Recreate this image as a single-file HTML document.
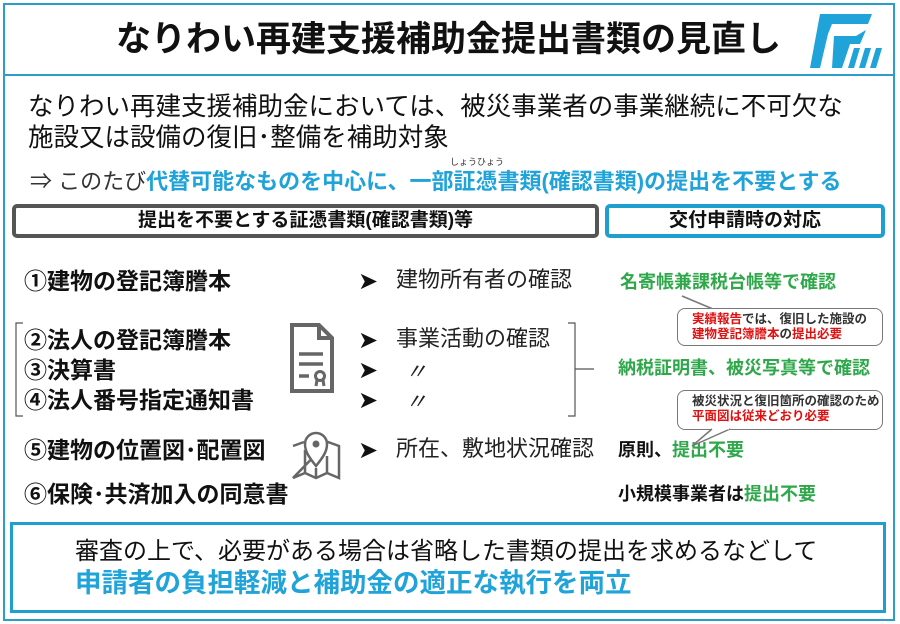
<!DOCTYPE html>
<html><head><meta charset="utf-8">
<style>
*{margin:0;padding:0;box-sizing:border-box}
body{width:900px;height:624px;background:#fff;position:relative;overflow:hidden;font-family:"Liberation Sans","Noto Sans CJK JP",sans-serif;color:#111}
.a{position:absolute;white-space:nowrap;line-height:1}
.b{font-weight:bold}
.blue{color:#1fa3d8}
.green{color:#2ea84a}
.red{color:#e01010}
.row{font-size:23px;font-weight:bold}
.arr{font-size:24px;color:#111}
.tx{font-size:22px;color:#222}
.g{font-size:18px;font-weight:bold}
.call{position:absolute;border:1.5px solid #777;border-radius:8px;background:#fff;font-size:12.5px;font-weight:bold;line-height:15px;padding:3px 0 0 14px;color:#333}
</style></head><body>
<div class="a" style="left:3px;top:3px;width:892px;height:618px;border:2px solid #2a9ec8"></div>
<div class="a" style="left:3px;top:74px;width:892px;height:2px;background:#2a9ec8"></div>
<div class="a b" style="left:116px;top:22px;font-size:35px;color:#111">なりわい再建支援補助金提出書類の見直し</div>
<svg class="a" style="left:810px;top:14px" width="72" height="54" viewBox="0 0 72 54">
<path d="M10 0 L62 0 L58 10 L22 10 L18 20 L10 54 L0 54 Z" fill="#1fa3d8"/>
<path d="M24 22 L46 22 L56 16 L50 30 L40 30 L32 54 L22 54 Z" fill="#1fa3d8"/>
<path d="M44 34 L50 34 L44 54 L38 54 Z M55 34 L61 34 L55 54 L49 54 Z M66 34 L72 34 L66 54 L60 54 Z" fill="#1fa3d8"/>
</svg>
<div class="a" style="left:28px;top:95px;font-size:25.5px">なりわい再建支援補助金においては、被災事業者の事業継続に不可欠な</div>
<div class="a" style="left:28px;top:126px;font-size:25.5px">施設又は設備の復旧･整備を補助対象</div>
<div class="a" style="left:450px;top:158px;font-size:9px;color:#333">しょうひょう</div>
<div class="a" style="left:30px;top:171px;font-size:22px"><span style="color:#333">⇒ このたび</span><span class="b blue">代替可能なものを中心に、一部証憑書類(確認書類)の提出を不要とする</span></div>
<div class="a" style="left:12px;top:204px;width:587px;height:34px;border:4px solid #555;border-radius:5px"></div>
<div class="a b" style="left:12px;top:211px;width:587px;text-align:center;font-size:19px">提出を不要とする証憑書類(確認書類)等</div>
<div class="a" style="left:605px;top:204px;width:280px;height:34px;border:4px solid #1f9fcf;border-radius:5px"></div>
<div class="a b" style="left:605px;top:211px;width:280px;text-align:center;font-size:19px">交付申請時の対応</div>

<div class="a row" style="left:24px;top:270px">①建物の登記簿謄本</div>
<div class="a row" style="left:24px;top:329px">②法人の登記簿謄本</div>
<div class="a row" style="left:24px;top:359px">③決算書</div>
<div class="a row" style="left:24px;top:389px">④法人番号指定通知書</div>
<div class="a row" style="left:24px;top:439px">⑤建物の位置図･配置図</div>
<div class="a row" style="left:24px;top:483px">⑥保険･共済加入の同意書</div>
<svg class="a" style="left:14px;top:322px" width="10" height="96"><path d="M9 1 H2 V94 H9" fill="none" stroke="#555" stroke-width="1.2"/></svg>
<svg class="a" style="left:560px;top:322px" width="40" height="96"><path d="M8 1 H15 V94 H8 M15 47 H34" fill="none" stroke="#555" stroke-width="1.2"/></svg>

<svg class="a" style="left:289px;top:322px" width="46" height="72" viewBox="0 0 46 72"><path d="M3 3 H30 L43 16 V69 H3 Z M30 3 V16 H43" fill="none" stroke="#666" stroke-width="4"/><path d="M10 32 H34 M10 42 H34 M10 54 H20" stroke="#666" stroke-width="3.5"/><circle cx="31" cy="54" r="4.5" fill="none" stroke="#666" stroke-width="3"/><path d="M28 58 L27 64 M34 58 L35 64" stroke="#666" stroke-width="3"/></svg>
<svg class="a" style="left:290px;top:428px" width="52" height="54" viewBox="0 0 52 54"><path d="M3 18 L14 14 M38 14 L49 18 V50 L37 45 L26 50 L15 45 L3 50 Z M15 45 V22 M37 45 V28 M26 50 V40" fill="none" stroke="#666" stroke-width="2.5"/><path d="M26 38 C18 28 15 23 15 16 A11 11 0 0 1 37 16 C37 23 34 28 26 38 Z" fill="#fff" stroke="#666" stroke-width="2.5"/><circle cx="26" cy="16" r="3.5" fill="#666"/></svg>

<div class="a arr" style="left:358px;top:270px">➤</div>
<div class="a arr" style="left:358px;top:329px">➤</div>
<div class="a arr" style="left:358px;top:359px">➤</div>
<div class="a arr" style="left:358px;top:389px">➤</div>
<div class="a arr" style="left:358px;top:439px">➤</div>
<div class="a tx" style="left:396px;top:269px">建物所有者の確認</div>
<div class="a tx" style="left:396px;top:328px">事業活動の確認</div>
<div class="a tx" style="left:405px;top:361px;font-style:italic">〃</div>
<div class="a tx" style="left:405px;top:391px;font-style:italic">〃</div>
<div class="a tx" style="left:396px;top:438px">所在、敷地状況確認</div>

<div class="a g green" style="left:620px;top:273px">名寄帳兼課税台帳等で確認</div>
<div class="a g green" style="left:618px;top:359px">納税証明書、被災写真等で確認</div>
<div class="a g" style="left:618px;top:441px">原則、<span class="green">提出不要</span></div>
<div class="a g" style="left:618px;top:485px">小規模事業者は<span class="green">提出不要</span></div>

<svg class="a" style="left:680px;top:294px" width="60" height="20"><path d="M2 2 L40 18 L58 18" fill="#fff" stroke="#777" stroke-width="1.5"/></svg>
<div class="call" style="left:677px;top:308px;width:206px;height:38px"><span class="red">実績報告</span>では、復旧した施設の<br><span class="red">建物登記簿謄本</span>の<span class="red">提出必要</span></div>
<div class="call" style="left:677px;top:390px;width:206px;height:40px;font-weight:bold">被災状況と復旧箇所の確認のため<br><span class="red">平面図は従来どおり必要</span></div>
<svg class="a" style="left:690px;top:428px" width="60" height="20"><path d="M40 1 L2 18 L22 1" fill="#fff" stroke="#777" stroke-width="1.5"/><path d="M23 0 L39 0" stroke="#fff" stroke-width="3"/></svg>

<div class="a" style="left:10px;top:522px;width:876px;height:91px;border:3px solid #1f9fcf"></div>
<div class="a" style="left:75px;top:540px;font-size:24px">審査の上で、必要がある場合は省略した書類の提出を求めるなどして</div>
<div class="a b blue" style="left:75px;top:570px;font-size:26.5px">申請者の負担軽減と補助金の適正な執行を両立</div>
</body></html>
